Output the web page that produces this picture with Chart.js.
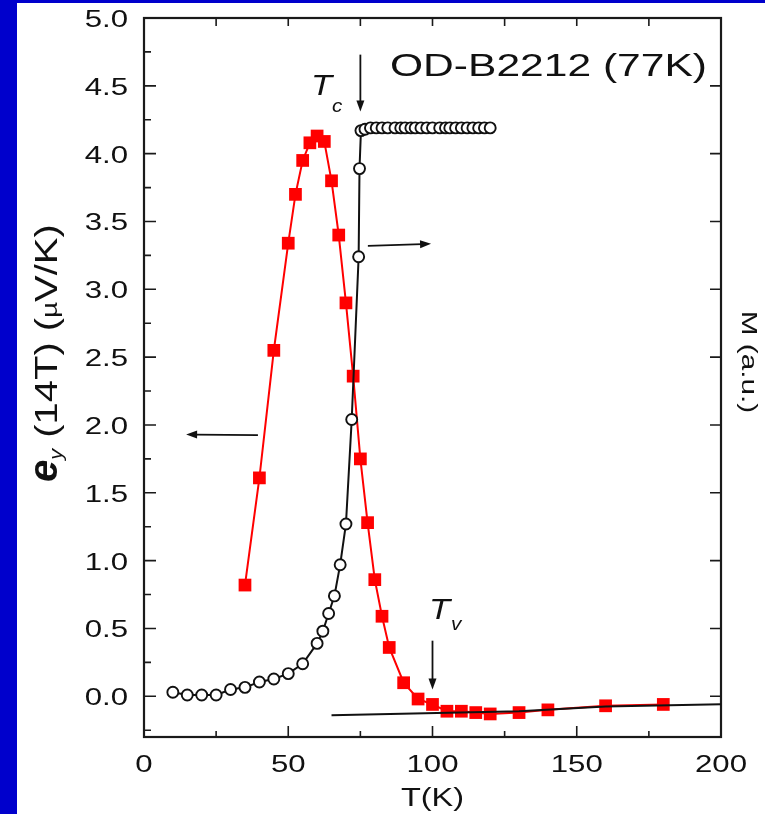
<!DOCTYPE html>
<html>
<head>
<meta charset="utf-8">
<script src="https://cdn.jsdelivr.net/npm/chart.js@4/dist/chart.umd.min.js"></script>
<style>
  html, body { margin: 0; padding: 0; background: #fff; }
  canvas { display: block; }
</style>
</head>
<body>
<canvas id="chart" width="765" height="814"></canvas>
<script>
const FONT = '"Liberation Sans", Arial, sans-serif';

// e_y (14T), red squares, left axis
const eyT = [35, 40, 45, 50, 52.5, 55, 57.5, 60, 62.5, 65, 67.5, 70, 72.5, 75, 77.5, 80, 82.5, 85,
  90, 95, 100, 105, 110, 115, 120, 130, 140, 160, 180];
const eyVal = [0.82, 1.61, 2.55, 3.34, 3.70, 3.95, 4.08, 4.13, 4.09, 3.80, 3.40, 2.90, 2.36, 1.75, 1.28, 0.86, 0.59, 0.36,
  0.10, -0.02, -0.06, -0.11, -0.11, -0.12, -0.13, -0.12, -0.10, -0.07, -0.06];

// M (a.u.), open circles, right axis
const mT = [10, 15, 20, 25, 30, 35, 40, 45, 50, 55, 60, 62, 64, 66, 68, 70, 72, 74.4, 74.7, 75.2,
  76.6, 78.5, 80.5, 82.5, 84.5, 87, 89, 90.5, 92.5, 94, 96, 98, 100, 102.5, 104.5, 106, 108, 110, 112, 114, 116, 118, 120];
const mVal = [0.03, 0.01, 0.01, 0.01, 0.05, 0.066, 0.105, 0.128, 0.167, 0.24, 0.39, 0.48, 0.61, 0.74, 0.97, 1.27, 2.04, 3.24, 3.89, 4.17,
  4.18, 4.19, 4.19, 4.19, 4.19, 4.19, 4.19, 4.19, 4.19, 4.19, 4.19, 4.19, 4.19, 4.19, 4.19, 4.19, 4.19, 4.19, 4.19, 4.19, 4.19, 4.19, 4.19];

// straight background line under T_v
const baseT = [65, 130, 160, 200];
const baseVal = [-0.14, -0.11, -0.075, -0.058];

// axis tick labels
const xTickLabels = ['0', '50', '100', '150', '200'];
const yTickLabels = ['0.0', '0.5', '1.0', '1.5', '2.0', '2.5', '3.0', '3.5', '4.0', '4.5', '5.0'];

// arrows [x1, y1, x2, y2] in data units
const arrows = [
  [75, 4.73, 75, 4.31],
  [100, 0.41, 100, 0.05],
  [77.6, 3.32, 99.5, 3.335],
  [39.5, 1.925, 14.6, 1.93]
];

const toPts = (xs, ys) => xs.map((x, i) => ({ x: x, y: ys[i] }));

// text with horizontal stretch, pieces = [text, font, dy, sx]
function rich(c, x, y, rot, align, pieces) {
  c.save();
  c.translate(x, y);
  c.rotate(rot);
  c.textBaseline = 'alphabetic';
  c.textAlign = 'left';
  let total = 0;
  pieces.forEach(p => { c.font = p[1]; total += c.measureText(p[0]).width * p[3]; });
  let px = align === 'center' ? -total / 2 : (align === 'right' ? -total : 0);
  pieces.forEach(p => {
    c.font = p[1];
    c.save();
    c.translate(px, p[2]);
    c.scale(p[3], 1);
    c.fillText(p[0], 0, 0);
    c.restore();
    px += c.measureText(p[0]).width * p[3];
  });
  c.restore();
}

function arrow(c, x1, y1, x2, y2) {
  const a = Math.atan2(y2 - y1, x2 - x1);
  const L = 11, W = 4;
  c.beginPath();
  c.moveTo(x1, y1);
  c.lineTo(x2 - L * 0.8 * Math.cos(a), y2 - L * 0.8 * Math.sin(a));
  c.stroke();
  c.beginPath();
  c.moveTo(x2, y2);
  c.lineTo(x2 - L * Math.cos(a) + W * Math.sin(a), y2 - L * Math.sin(a) - W * Math.cos(a));
  c.lineTo(x2 - L * Math.cos(a) - W * Math.sin(a), y2 - L * Math.sin(a) + W * Math.cos(a));
  c.closePath();
  c.fill();
}

const frame = {
  id: 'frame',
  beforeDraw(chart) {
    const c = chart.ctx;
    c.save();
    c.fillStyle = '#fff';
    c.fillRect(0, 0, chart.width, chart.height);
    c.fillStyle = '#0000cc';
    c.fillRect(0, 0, 17, chart.height);
    c.fillRect(0, 0, chart.width, 3);
    c.restore();
  },
  beforeDatasetsDraw(chart) {
    const c = chart.ctx;
    const { left, right, top, bottom } = chart.chartArea;
    const xs = chart.scales.x, ys = chart.scales.y;
    c.save();
    c.strokeStyle = '#1a1a1a';
    c.lineWidth = 2.2;
    c.strokeRect(left, top, right - left, bottom - top);
    c.lineWidth = 1.6;
    c.beginPath();
    for (let i = -1; i <= 20; i++) {
      const y = ys.getPixelForValue(i * 0.25);
      c.moveTo(left, y);
      c.lineTo(left + (i % 2 === 0 ? 12 : 7), y);
    }
    for (let i = 0; i <= 9; i++) {
      const y = ys.getPixelForValue(i * 0.5);
      c.moveTo(right, y);
      c.lineTo(right - 11, y);
    }
    for (let i = 1; i <= 7; i++) {
      const x = xs.getPixelForValue(i * 25);
      c.moveTo(x, bottom);
      c.lineTo(x, bottom - (i % 2 === 0 ? 11 : 6));
      c.moveTo(x, top);
      c.lineTo(x, top + 8);
    }
    c.stroke();
    c.restore();
  },
  afterDraw(chart) {
    const c = chart.ctx;
    const { left, right } = chart.chartArea;
    const xs = chart.scales.x, ys = chart.scales.y;
    c.save();
    c.fillStyle = '#111';
    c.strokeStyle = '#111';

    // tick labels
    xTickLabels.forEach(s => {
      rich(c, xs.getPixelForValue(parseFloat(s)), 772, 0, 'center', [[s, '24px ' + FONT, 0, 1.3]]);
    });
    yTickLabels.forEach(s => {
      rich(c, 128, ys.getPixelForValue(parseFloat(s)) + 9, 0, 'right', [[s, '24px ' + FONT, 0, 1.3]]);
    });

    // axis titles
    rich(c, (left + right) / 2, 806, 0, 'center', [['T(K)', '25px ' + FONT, 0, 1.3]]);
    rich(c, 57, 482, -Math.PI / 2, 'left', [
      ['e', 'bold italic 40px ' + FONT, 0, 1.0],
      ['y', 'italic 18px ' + FONT, 5, 1.2],
      [' (14T) (', '32px ' + FONT, 0, 1.25],
      ['\u00b5', '22px ' + FONT, 0, 1.25],
      ['V/K)', '32px ' + FONT, 0, 1.25]
    ]);
    rich(c, 742, 362, Math.PI / 2, 'center', [['M (a.u.)', '22px ' + FONT, 0, 1.35]]);

    // annotations
    rich(c, 390, 76, 0, 'left', [['OD-B2212 (77K)', '32px ' + FONT, 0, 1.33]]);
    rich(c, 311, 95, 0, 'left', [['T', 'italic 30px ' + FONT, 0, 1.15]]);
    rich(c, 332, 112, 0, 'left', [['c', 'italic 18px ' + FONT, 0, 1.15]]);
    rich(c, 429, 619, 0, 'left', [['T', 'italic 30px ' + FONT, 0, 1.15]]);
    rich(c, 451, 630, 0, 'left', [['v', 'italic 18px ' + FONT, 0, 1.15]]);

    c.lineWidth = 1.8;
    arrows.forEach(a => {
      arrow(c, xs.getPixelForValue(a[0]), ys.getPixelForValue(a[1]),
        xs.getPixelForValue(a[2]), ys.getPixelForValue(a[3]));
    });
    c.restore();
  }
};

const ctx = document.getElementById('chart').getContext('2d');

new Chart(ctx, {
  type: 'scatter',
  data: {
    datasets: [
      {
        label: 'baseline',
        data: toPts(baseT, baseVal),
        showLine: true,
        borderColor: '#111',
        borderWidth: 2,
        pointRadius: 0,
        yAxisID: 'y'
      },
      {
        label: 'M',
        data: toPts(mT, mVal),
        showLine: true,
        borderColor: '#111',
        borderWidth: 2,
        pointStyle: 'circle',
        pointRadius: 5.5,
        pointBorderWidth: 1.9,
        pointBorderColor: '#111',
        pointBackgroundColor: '#fff',
        yAxisID: 'y2'
      },
      {
        label: 'e_y',
        data: toPts(eyT, eyVal),
        showLine: true,
        borderColor: '#ff0000',
        borderWidth: 2,
        pointStyle: 'rect',
        pointRadius: 9,
        pointBorderWidth: 0,
        pointBackgroundColor: '#ff0000',
        yAxisID: 'y'
      }
    ]
  },
  options: {
    responsive: false,
    animation: false,
    events: [],
    layout: { padding: { top: 18, left: 0, right: 0, bottom: 0 } },
    plugins: { legend: { display: false }, tooltip: { enabled: false } },
    scales: {
      x: {
        type: 'linear', min: 0, max: 200,
        ticks: { display: false }, grid: { display: false }, border: { display: false },
        afterFit(s) { s.height = 77; }
      },
      y: {
        min: -0.3, max: 5.0,
        ticks: { display: false }, grid: { display: false }, border: { display: false },
        afterFit(s) { s.width = 144; }
      },
      y2: {
        position: 'right', min: -0.3, max: 5.0,
        ticks: { display: false }, grid: { display: false }, border: { display: false },
        afterFit(s) { s.width = 44; }
      }
    }
  },
  plugins: [frame]
});
</script>
</body>
</html>
